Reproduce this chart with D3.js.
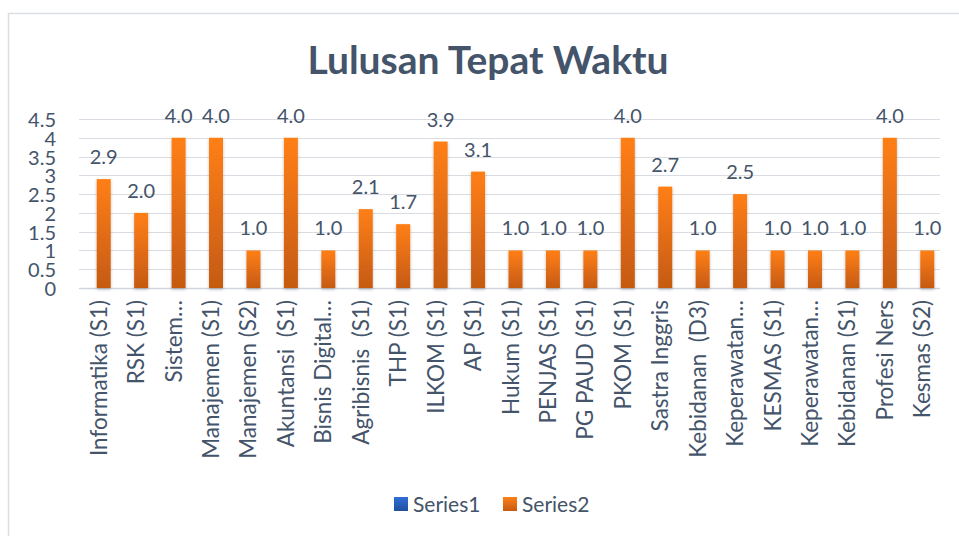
<!DOCTYPE html>
<html>
<head>
<meta charset="utf-8">
<script src="https://cdn.jsdelivr.net/npm/d3@7"></script>
<style>
  html, body { margin: 0; padding: 0; background: #fff; }
  svg { display: block; font-family: Lato, "Open Sans", sans-serif; }
</style>
</head>
<body>
<div id="chart"></div>
<script>
const categories = [
    'Informatika (S1)', 'RSK (S1)', 'Sistem\u2026', 'Manajemen (S1)', 'Manajemen (S2)',
    'Akuntansi  (S1)', 'Bisnis Digital\u2026', 'Agribisnis  (S1)', 'THP (S1)', 'ILKOM (S1)',
    'AP (S1)', 'Hukum (S1)', 'PENJAS (S1)', 'PG PAUD (S1)', 'PKOM (S1)', 'Sastra Inggris',
    'Kebidanan  (D3)', 'Keperawatan\u2026', 'KESMAS (S1)', 'Keperawatan\u2026', 'Kebidanan (S1)',
    'Profesi Ners', 'Kesmas (S2)'
];
const series1 = categories.map(() => null); // Series1 has no values shown
const series2 = [2.9, 2.0, 4.0, 4.0, 1.0, 4.0, 1.0, 2.1, 1.7, 3.9, 3.1, 1.0, 1.0, 1.0, 4.0, 2.7, 1.0, 2.5, 1.0, 1.0, 1.0, 4.0, 1.0];
const yTicks = [0, 0.5, 1, 1.5, 2, 2.5, 3, 3.5, 4, 4.5];
const seriesNames = ['Series1', 'Series2'];

const width = 959, height = 536;
const margin = { top: 119, right: 19, bottom: 248, left: 79 };
const textColor = '#44546A';

const svg = d3.select('#chart').append('svg')
    .attr('width', width)
    .attr('height', height);

const defs = svg.append('defs');
const orange = defs.append('linearGradient').attr('id', 'orangeGrad')
    .attr('x1', 0).attr('y1', 0).attr('x2', 0).attr('y2', 1);
orange.append('stop').attr('offset', '0%').attr('stop-color', '#FF7F17');
orange.append('stop').attr('offset', '100%').attr('stop-color', '#C55A11');
const blue = defs.append('linearGradient').attr('id', 'blueGrad')
    .attr('x1', 0).attr('y1', 0).attr('x2', 0).attr('y2', 1);
blue.append('stop').attr('offset', '0%').attr('stop-color', '#2F6FD6');
blue.append('stop').attr('offset', '100%').attr('stop-color', '#1F4E9E');
const shadow = defs.append('filter').attr('id', 'shadow')
    .attr('x', '-50%').attr('y', '-10%').attr('width', '200%').attr('height', '130%');
shadow.append('feDropShadow').attr('dx', 0).attr('dy', 1.5).attr('stdDeviation', 1.5)
    .attr('flood-color', '#000').attr('flood-opacity', 0.25);

// chart border (only top and left edges fall inside the picture)
svg.append('rect')
    .attr('x', 8.5).attr('y', 13.5)
    .attr('width', 960).attr('height', 540)
    .attr('fill', 'none')
    .attr('stroke', '#D9DEE4')
    .attr('stroke-width', 1.5);

// title
svg.append('text')
    .attr('x', 488).attr('y', 74)
    .attr('text-anchor', 'middle')
    .style('font-size', '39px')
    .style('font-weight', 'bold')
    .style('fill', textColor)
    .text('Lulusan Tepat Waktu');

const x = d3.scaleBand()
    .domain(d3.range(categories.length))
    .range([margin.left, width - margin.right]);

const y = d3.scaleLinear()
    .domain([0, 4.5])
    .range([height - margin.bottom, margin.top]);

const barW = 14;
const barX = i => x(i) + x.bandwidth() / 2 - 1;

// gridlines
svg.append('g')
    .selectAll('line')
    .data(yTicks)
    .enter().append('line')
    .attr('x1', margin.left).attr('x2', width - margin.right)
    .attr('y1', d => Math.round(y(d)) + 0.5)
    .attr('y2', d => Math.round(y(d)) + 0.5)
    .attr('stroke', d => d === 0 ? '#D0D5DC' : '#D9DDE3')
    .attr('stroke-width', d => d === 0 ? 1.5 : 1.2);

// y axis labels
svg.append('g')
    .selectAll('text')
    .data(yTicks)
    .enter().append('text')
    .attr('x', 56)
    .attr('y', d => y(d))
    .attr('dy', '0.4em')
    .attr('text-anchor', 'end')
    .style('font-size', '20px')
    .style('fill', textColor)
    .text(d => d);

// bars
const bars = series2.map((v, i) => ({ i, v }));
svg.append('g')
    .selectAll('rect')
    .data(bars)
    .enter().append('rect')
    .attr('x', d => barX(d.i))
    .attr('y', d => y(d.v))
    .attr('width', barW)
    .attr('height', d => y(0) - y(d.v))
    .attr('fill', 'url(#orangeGrad)')
    .attr('filter', 'url(#shadow)');

// data labels
svg.append('g')
    .selectAll('text')
    .data(bars)
    .enter().append('text')
    .attr('x', d => barX(d.i) + barW / 2)
    .attr('y', d => y(d.v) - 15)
    .attr('text-anchor', 'middle')
    .style('font-size', '20px')
    .style('fill', textColor)
    .text(d => d.v.toFixed(1));

// x labels
svg.append('g')
    .selectAll('text')
    .data(categories)
    .enter().append('text')
    .attr('transform', (d, i) => `translate(${x(i) + x.bandwidth() / 2 + 9}, ${y(0) + 12}) rotate(-90)`)
    .attr('text-anchor', 'end')
    .attr('xml:space', 'preserve')
    .style('white-space', 'pre')
    .style('font-size', '22.5px')
    .style('fill', textColor)
    .text(d => d);

// legend
const legend = svg.append('g');
const legendItems = [
    { name: seriesNames[0], fill: 'url(#blueGrad)', x: 394 },
    { name: seriesNames[1], fill: 'url(#orangeGrad)', x: 503 }
];
legendItems.forEach(item => {
    legend.append('rect')
        .attr('x', item.x).attr('y', 497)
        .attr('width', 14).attr('height', 14)
        .attr('fill', item.fill);
    legend.append('text')
        .attr('x', item.x + 19).attr('y', 512)
        .style('font-size', '21px')
        .style('fill', textColor)
        .text(item.name);
});
</script>
</body>
</html>
